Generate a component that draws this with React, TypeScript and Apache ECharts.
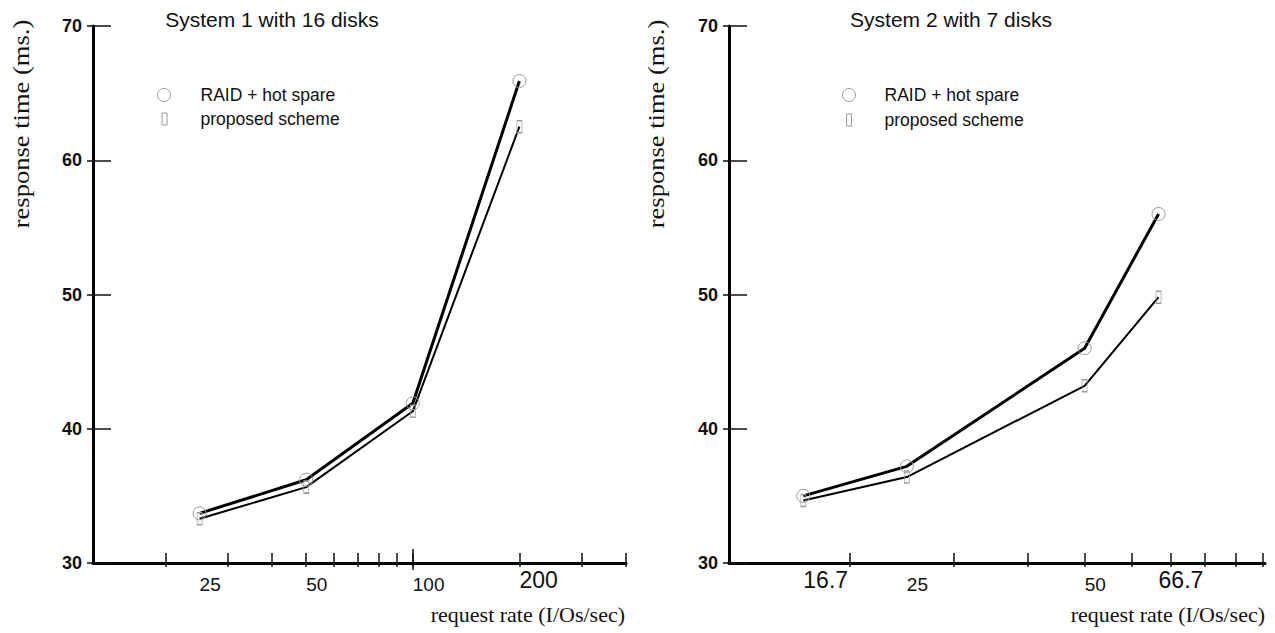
import React, { useEffect, useRef } from "react";
import * as echarts from "echarts";

// ---- data ----
const rate1 = [25, 50, 100, 200];
const raid1 = [33.7, 36.2, 41.9, 65.9];
const prop1 = [33.3, 35.65, 41.3, 62.5];

const rate2 = [16.7, 25, 50, 66.7];
const raid2 = [35.0, 37.2, 46.0, 56.0];
const prop2 = [34.65, 36.4, 43.2, 49.8];

const ticks1 = [20, 30, 40, 50, 60, 70, 80, 90, 100, 200, 300, 400];
const ticks2 = [20, 30, 40, 50, 60, 70, 80, 90, 100];
const tallTicks1 = [100];
const labels1 = [25, 50, 100, 200];
const labels2 = [16.7, 25, 50, 66.7];
const bigLabels1 = [200];
const bigLabels2 = [16.7, 66.7];

const seriesNames = ["RAID + hot spare", "proposed scheme"];
const titles = ["System 1 with 16 disks", "System 2 with 7 disks"];
const xName = "request rate (I/Os/sec)";
const yName = "response time (ms.)";

const SANS = '"Liberation Sans", Arial, sans-serif';
const SERIF = '"Liberation Serif", "Times New Roman", serif';
const INK = "#111";

function nearest(list: number[], v: number) {
  let best = list[0];
  for (const x of list) if (Math.abs(x - v) < Math.abs(best - v)) best = x;
  return best;
}

function mainX(gridIndex: number, min: number, max: number, ticks: number[], labels: number[], big: number[]) {
  return {
    type: "log",
    gridIndex,
    min,
    max,
    position: "bottom",
    axisLine: { show: true, onZero: false, lineStyle: { color: "#000", width: 3 } },
    axisTick: { show: true, inside: true, length: 10, customValues: ticks, lineStyle: { color: INK, width: 1.5 } },
    axisLabel: {
      show: true,
      customValues: labels,
      align: "left",
      margin: 5,
      formatter: (v: number) => {
        const n = nearest(labels, v);
        return big.indexOf(n) >= 0 ? `{b|${n}}` : `{s|${n}}`;
      },
      rich: {
        s: { fontSize: 19, fontFamily: SANS, color: INK, padding: [7, 0, 0, 0] },
        b: { fontSize: 23, fontFamily: SANS, color: INK, padding: [0, 0, 0, 0] },
      },
    },
    splitLine: { show: false },
  };
}

function extraX(gridIndex: number, min: number, max: number, ticks: number[], inside: boolean, length: number) {
  return {
    type: "log",
    gridIndex,
    min,
    max,
    position: "bottom",
    axisLine: { show: false, onZero: false },
    axisTick: { show: true, inside, length, customValues: ticks, lineStyle: { color: INK, width: 1.5 } },
    axisLabel: { show: false },
    splitLine: { show: false },
  };
}

function mainY(gridIndex: number) {
  return {
    type: "value",
    gridIndex,
    min: 30,
    max: 70,
    interval: 10,
    position: "left",
    axisLine: { show: true, onZero: false, lineStyle: { color: "#000", width: 3 } },
    axisTick: { show: true, inside: true, length: 18, lineStyle: { color: INK, width: 1.5 } },
    axisLabel: { fontSize: 18, fontWeight: "bold", fontFamily: SANS, color: INK, margin: 11 },
    splitLine: { show: false },
  };
}

function extraY(gridIndex: number) {
  return {
    type: "value",
    gridIndex,
    min: 30,
    max: 70,
    interval: 10,
    position: "left",
    axisLine: { show: false, onZero: false },
    axisTick: { show: true, inside: false, length: 6, lineStyle: { color: INK, width: 1.5 } },
    axisLabel: { show: false },
    splitLine: { show: false },
  };
}

const markerStyle = { color: "rgba(0,0,0,0)", borderColor: "#9a9a9a", borderWidth: 1 };

function raidSeries(x: number[], y: number[], xi: number, yi: number) {
  return {
    type: "line",
    name: seriesNames[0],
    xAxisIndex: xi,
    yAxisIndex: yi,
    data: x.map((v, i) => [v, y[i]]),
    symbol: "circle",
    symbolSize: 13,
    lineStyle: { color: "#000", width: 3 },
    itemStyle: markerStyle,
    emphasis: { disabled: true },
  };
}

function propSeries(x: number[], y: number[], xi: number, yi: number) {
  return {
    type: "line",
    name: seriesNames[1],
    xAxisIndex: xi,
    yAxisIndex: yi,
    data: x.map((v, i) => [v, y[i]]),
    symbol: "rect",
    symbolSize: [5, 12],
    lineStyle: { color: "#000", width: 2 },
    itemStyle: markerStyle,
    emphasis: { disabled: true },
  };
}

function legendItem(name: string, icon: string, left: number, top: number, w: number, h: number, pad: number) {
  return {
    data: [{ name, icon }],
    left,
    top,
    padding: 0,
    itemWidth: w,
    itemHeight: h,
    selectedMode: false,
    itemStyle: markerStyle,
    textStyle: { fontSize: 17.5, fontFamily: SANS, color: INK, padding: [0, 0, 0, pad] },
  };
}

const option = {
  animation: false,
  backgroundColor: "#ffffff",
  grid: [
    { left: 93, top: 26, width: 533, height: 537 },
    { left: 729, top: 26, width: 536, height: 537 },
  ],
  xAxis: [
    mainX(0, 12.5, 400, ticks1, labels1, bigLabels1),
    extraX(0, 12.5, 400, ticks1, false, 4),
    extraX(0, 12.5, 400, tallTicks1, true, 14),
    extraX(0, 12.5, 400, tallTicks1, false, 7),
    mainX(1, 12.5, 101, ticks2, labels2, bigLabels2),
    extraX(1, 12.5, 101, ticks2, false, 4),
  ],
  yAxis: [mainY(0), extraY(0), mainY(1), extraY(1)],
  legend: [
    legendItem(seriesNames[0], "circle", 157, 86, 13, 13, 25),
    legendItem(seriesNames[1], "rect", 161.5, 110, 5, 12, 28.5),
    legendItem(seriesNames[0], "circle", 842, 86, 13, 13, 24),
    legendItem(seriesNames[1], "rect", 846, 111, 5, 12, 28),
  ],
  graphic: [
    { type: "text", x: 272, y: 19, style: { text: titles[0], font: `21px ${SANS}`, fill: INK, align: "center", verticalAlign: "middle" } },
    { type: "text", x: 951, y: 19, style: { text: titles[1], font: `21px ${SANS}`, fill: INK, align: "center", verticalAlign: "middle" } },
    { type: "text", x: 21, y: 124, rotation: Math.PI / 2, scaleX: 1.18, style: { text: yName, font: `22.5px ${SERIF}`, fill: INK, align: "center", verticalAlign: "middle" } },
    { type: "text", x: 656, y: 124, rotation: Math.PI / 2, scaleX: 1.18, style: { text: yName, font: `22.5px ${SERIF}`, fill: INK, align: "center", verticalAlign: "middle" } },
    { type: "text", x: 625, y: 614, style: { text: xName, font: `22px ${SERIF}`, fill: INK, align: "right", verticalAlign: "middle" } },
    { type: "text", x: 1265, y: 614, style: { text: xName, font: `22px ${SERIF}`, fill: INK, align: "right", verticalAlign: "middle" } },
  ],
  series: [
    raidSeries(rate1, raid1, 0, 0),
    propSeries(rate1, prop1, 0, 0),
    raidSeries(rate2, raid2, 4, 2),
    propSeries(rate2, prop2, 4, 2),
  ],
};

export default function App() {
  const ref = useRef<HTMLDivElement>(null);
  useEffect(() => {
    if (!ref.current) return;
    const chart = echarts.init(ref.current, null, { renderer: "svg" });
    chart.setOption(option as any);
    return () => chart.dispose();
  }, []);
  return (
    <div
      ref={ref}
      style={{ position: "absolute", left: 0, top: 0, width: 1275, height: 633, background: "#fff" }}
    />
  );
}
